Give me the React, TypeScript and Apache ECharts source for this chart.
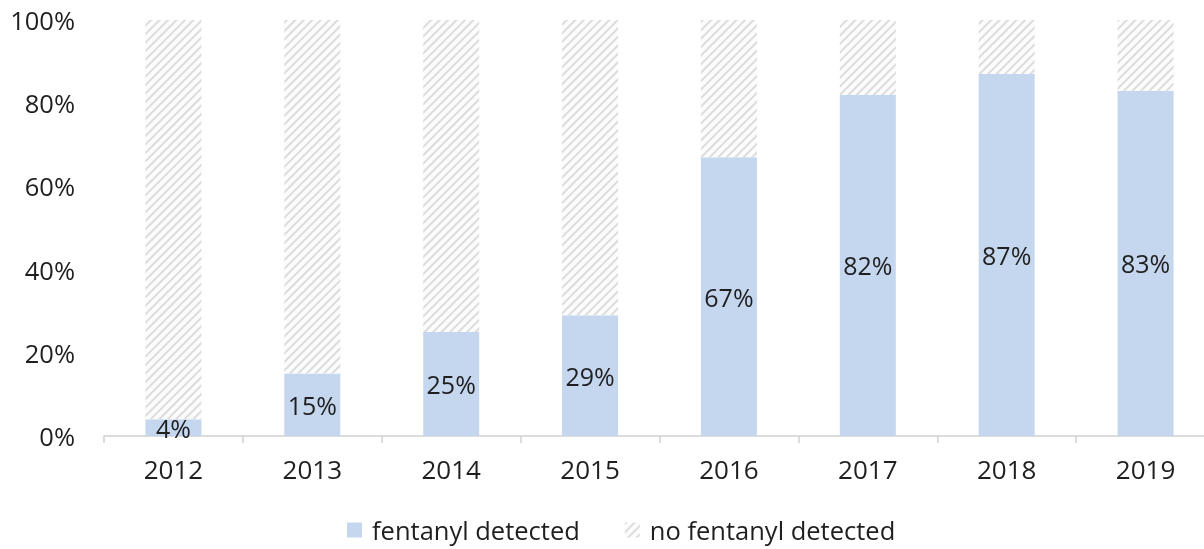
import React, { useEffect, useRef } from "react";
import * as echarts from "echarts";

const years = ["2012", "2013", "2014", "2015", "2016", "2017", "2018", "2019"];
const detected = [4, 15, 25, 29, 67, 82, 87, 83];
const notDetected = [96, 85, 75, 71, 33, 18, 13, 17];
const yTicks = [0, 20, 40, 60, 80, 100];

const FONT = "'Open Sans', 'Noto Sans', sans-serif";
const BLUE = "#c5d7ee";
const TEXT = "#1f1f1f";

const hatchDecal = {
  symbol: "rect",
  symbolSize: 1,
  dashArrayX: [1, 0],
  dashArrayY: [1.2, 3.3],
  rotation: -Math.PI / 4,
  color: "#dcdcdc",
};

export default function App() {
  const ref = useRef<HTMLDivElement>(null);
  useEffect(() => {
    if (!ref.current) return;
    const chart = echarts.init(ref.current, undefined, { renderer: "svg" });
    chart.setOption({
      animation: false,
      aria: { enabled: false, decal: { show: false } },
      grid: { left: 104, right: 0, top: 20, bottom: 113, containLabel: false },
      legend: {
        top: 517,
        left: 347,
        padding: 0,
        itemWidth: 15,
        itemHeight: 15,
        itemGap: 45,
        textStyle: { fontFamily: FONT, fontSize: 25.5, color: TEXT, padding: [0, 0, 0, 5] },
        data: [
          { name: "fentanyl detected", icon: "rect" },
          { name: "no fentanyl detected", icon: "rect" },
        ],
      },
      xAxis: {
        type: "category",
        data: years,
        axisLine: { lineStyle: { color: "#d0d0d0", width: 1.5 } },
        axisTick: { show: true, length: 7, lineStyle: { color: "#d0d0d0", width: 1.5 } },
        axisLabel: { fontFamily: FONT, fontSize: 26, color: TEXT, margin: 20 },
      },
      yAxis: {
        type: "value",
        min: yTicks[0],
        max: yTicks[yTicks.length - 1],
        interval: 20,
        splitLine: { show: false },
        axisLine: { show: false },
        axisTick: { show: false },
        axisLabel: {
          fontFamily: FONT,
          fontSize: 25.5,
          color: TEXT,
          margin: 29,
          formatter: (v: number) => v + "%",
        },
      },
      series: [
        {
          name: "fentanyl detected",
          type: "bar",
          stack: "total",
          barWidth: 56,
          data: detected,
          itemStyle: { color: BLUE },
          label: {
            show: true,
            position: "inside",
            formatter: (p: any) => p.value + "%",
            fontFamily: FONT,
            fontSize: 25,
            color: TEXT,
          },
        },
        {
          name: "no fentanyl detected",
          type: "bar",
          stack: "total",
          barWidth: 56,
          data: notDetected,
          itemStyle: { color: "#fcfcfc", decal: hatchDecal },
        },
      ],
    });
    return () => chart.dispose();
  }, []);
  return (
    <div
      ref={ref}
      style={{ position: "fixed", left: 0, top: 0, width: 1215, height: 549 }}
    />
  );
}
